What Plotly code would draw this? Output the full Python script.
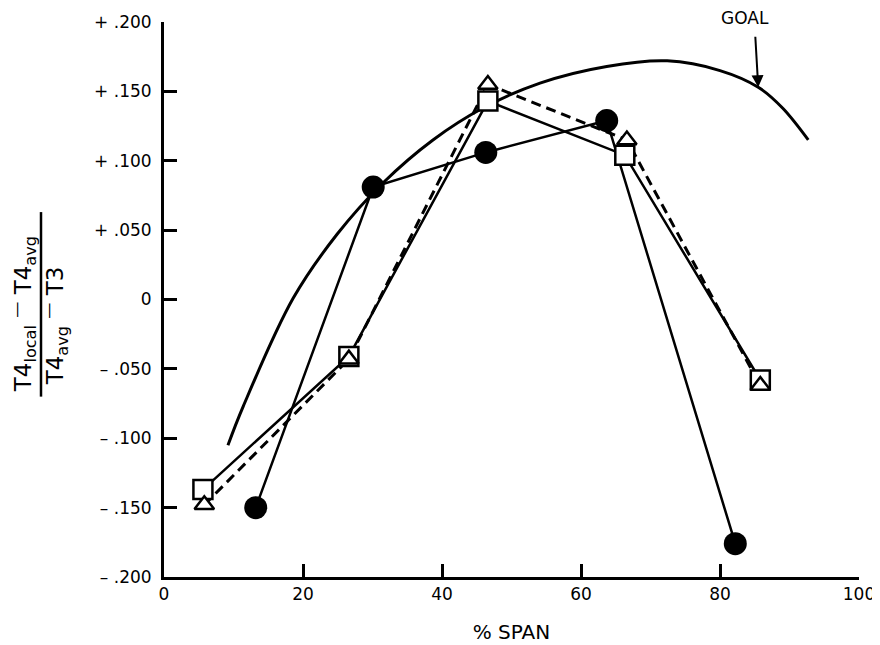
import plotly.graph_objects as go

# ---- data ----
circle_x = [13.2, 30.1, 46.3, 63.7, 82.2]
circle_y = [-0.150, 0.081, 0.106, 0.129, -0.176]

square_x = [5.6, 26.6, 46.6, 66.3, 85.8]
square_y = [-0.137, -0.041, 0.143, 0.104, -0.058]

tri_x = [5.8, 26.6, 46.6, 66.6, 85.8]
tri_y = [-0.148, -0.043, 0.155, 0.115, -0.062]

goal_x = [9.2, 11.4, 18.6, 24.9, 31.5, 38.7, 45.9, 54.1, 63.7, 72.4, 80.0, 85.5, 89.0, 92.7]
goal_y = [-0.105, -0.077, 0.001, 0.047, 0.084, 0.115, 0.138, 0.156, 0.168, 0.172, 0.165, 0.153, 0.138, 0.115]

x_ticks = [0, 20, 40, 60, 80, 100]
x_ticktext = ["0", "20", "40", "60", "80", "100"]
y_ticks = [0.2, 0.15, 0.1, 0.05, 0, -0.05, -0.1, -0.15, -0.2]
y_ticktext = ["+ .200", "+ .150", "+ .100", "+ .050", "0", "– .050", "– .100", "– .150", "– .200"]

goal_label = "GOAL"
goal_arrow_x, goal_arrow_y = 85.5, 0.153

FONT = "DejaVu Sans"

fig = go.Figure()

fig.add_trace(go.Scatter(x=goal_x, y=goal_y, mode="lines",
                         line=dict(color="black", width=3, shape="spline", smoothing=1.0),
                         hoverinfo="skip", showlegend=False))

fig.add_trace(go.Scatter(x=circle_x, y=circle_y, mode="lines+markers",
                         line=dict(color="black", width=2.5),
                         marker=dict(symbol="circle", size=23, color="black"),
                         showlegend=False, cliponaxis=False))

fig.add_trace(go.Scatter(x=tri_x, y=tri_y, mode="lines",
                         line=dict(color="black", width=3, dash="10px,6px"),
                         showlegend=False, cliponaxis=False))

fig.add_trace(go.Scatter(x=square_x, y=square_y, mode="lines+markers",
                         line=dict(color="black", width=2.5),
                         marker=dict(symbol="square", size=19, color="white",
                                     line=dict(color="black", width=2.5)),
                         showlegend=False, cliponaxis=False))

fig.add_trace(go.Scatter(x=tri_x, y=tri_y, mode="markers",
                         marker=dict(symbol="triangle-up", size=17, color="white",
                                     line=dict(color="black", width=2.5)),
                         showlegend=False, cliponaxis=False))

# GOAL label and arrow
fig.add_annotation(x=goal_arrow_x, y=goal_arrow_y, xref="x", yref="y", text="",
                   showarrow=True, arrowhead=2, arrowsize=1.2, arrowwidth=2,
                   arrowcolor="black", ax=-3, ay=-52)
fig.add_annotation(x=83.6, y=0.2, xref="x", yref="y", text=goal_label,
                   showarrow=False, yshift=4, font=dict(family=FONT, size=17, color="black"))

# y-axis title as a fraction
fig.add_annotation(xref="paper", yref="y", x=0, y=-0.011, xshift=-159,
                   text="T4<sub>local</sub> <sup>—</sup> T4<sub>avg</sub>", textangle=-90,
                   showarrow=False, font=dict(family=FONT, size=23, color="black"))
fig.add_annotation(xref="paper", yref="y", x=0, y=-0.019, xshift=-127,
                   text="T4<sub>avg</sub> <sup>—</sup> T3", textangle=-90,
                   showarrow=False, font=dict(family=FONT, size=23, color="black"))
fig.add_shape(type="line", xref="paper", yref="y", xsizemode="pixel", xanchor=0,
              x0=-123, x1=-123, y0=0.063, y1=-0.070,
              line=dict(color="black", width=2.5))

fig.update_xaxes(range=[0, 100], tickvals=x_ticks, ticktext=x_ticktext,
                 ticks="inside", ticklen=13, tickwidth=3, tickcolor="black",
                 showline=True, linewidth=3, linecolor="black",
                 showgrid=False, zeroline=False,
                 tickfont=dict(family=FONT, size=17, color="black"),
                 title=dict(text="% SPAN", standoff=22,
                            font=dict(family=FONT, size=20, color="black")),
                 automargin=False)
fig.update_yaxes(range=[-0.2, 0.2], tickvals=y_ticks, ticktext=y_ticktext,
                 ticks="inside", ticklen=13, tickwidth=3, tickcolor="black",
                 showline=True, linewidth=3, linecolor="black",
                 showgrid=False, zeroline=False, ticklabelstandoff=6,
                 tickfont=dict(family=FONT, size=17, color="black"),
                 automargin=False)

fig.update_layout(width=880, height=645,
                  margin=dict(l=156, r=29, t=14, b=76),
                  plot_bgcolor="white", paper_bgcolor="white")

fig.write_html("out.html")
